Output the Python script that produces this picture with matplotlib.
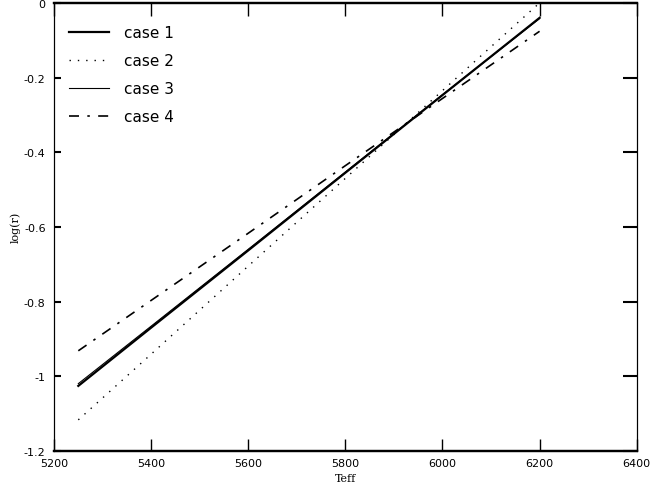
import matplotlib
matplotlib.use("Agg")
import matplotlib.pyplot as plt

# values
teff = [5250, 5400, 5600, 5800, 6000, 6200]
case1 = [-1.026, -0.870, -0.663, -0.455, -0.247, -0.040]
case2 = [-1.117, -0.941, -0.705, -0.470, -0.235, 0.000]
case3 = [-1.020, -0.866, -0.660, -0.453, -0.246, -0.042]
case4 = [-0.932, -0.797, -0.617, -0.436, -0.256, -0.076]

xticks = [5200, 5400, 5600, 5800, 6000, 6200, 6400]
yticks = [0, -0.2, -0.4, -0.6, -0.8, -1.0, -1.2]
yticklabels = ["0", "-0.2", "-0.4", "-0.6", "-0.8", "-1", "-1.2"]

fig = plt.figure(figsize=(6.51, 4.89), dpi=100)
ax = fig.add_axes([0.083, 0.076, 0.895, 0.916])

ax.plot(teff, case1, color="black", lw=1.6, label="case 1")
ax.plot(teff, case2, color="black", lw=1.0, linestyle=(0, (1, 5)), label="case 2")
ax.plot(teff, case3, color="black", lw=0.8, label="case 3")
ax.plot(teff, case4, color="black", lw=1.2, linestyle=(0, (6, 5, 1.5, 5)), label="case 4")

ax.set_xlim(5200, 6400)
ax.set_ylim(-1.2, 0)
ax.set_xticks(xticks)
ax.set_yticks(yticks)
ax.set_yticklabels(yticklabels)
ax.tick_params(axis="x", direction="in", length=9, width=1, top=True, labelsize=8, pad=5)
ax.tick_params(axis="y", direction="in", length=5, width=1.5, labelsize=8, pad=6)

# right side ticks are longer
ax2 = ax.twinx()
ax2.set_ylim(-1.2, 0)
ax2.set_yticks(yticks)
ax2.tick_params(axis="y", direction="in", length=10, width=1.5, labelright=False)

for a in (ax, ax2):
    a.spines["top"].set_linewidth(1.6)
    a.spines["bottom"].set_linewidth(1.6)
    a.spines["left"].set_linewidth(0.8)
    a.spines["right"].set_linewidth(0.8)

ax.set_xlabel("Teff", family="serif", fontsize=8, labelpad=4)
ax.set_ylabel("log(r)", family="serif", fontsize=8, labelpad=2)

ax.legend(loc="upper left", bbox_to_anchor=(0.0, 0.985), frameon=False, fontsize=11,
          handlelength=2.6, handletextpad=1.0, labelspacing=0.85, borderaxespad=0.6)

fig.savefig("out.png", dpi=100)
